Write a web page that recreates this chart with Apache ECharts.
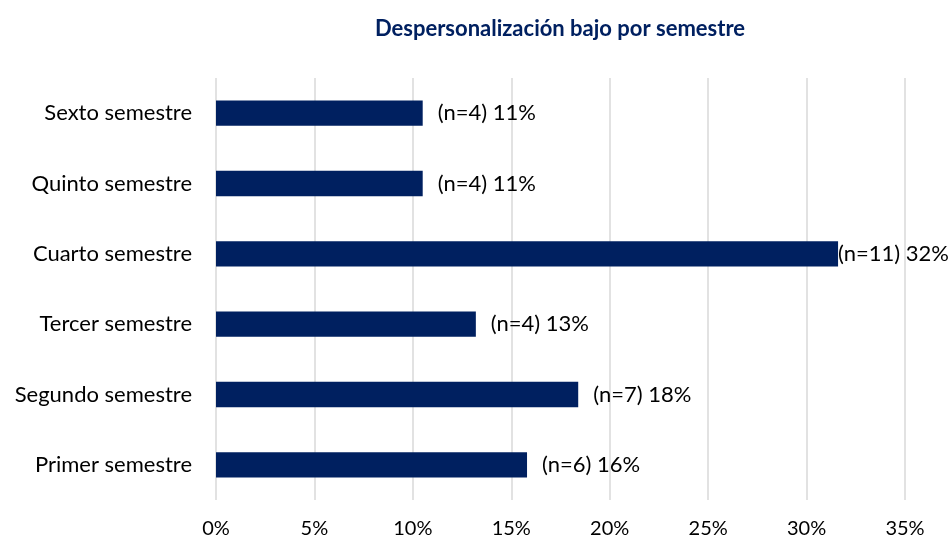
<!DOCTYPE html>
<html>
<head>
<meta charset="utf-8">
<script src="https://cdn.jsdelivr.net/npm/echarts@6/dist/echarts.min.js"></script>
<style>
  html, body { margin: 0; padding: 0; background: #fff; }
  #chart { width: 951px; height: 546px; }
</style>
</head>
<body>
<div id="chart"></div>
<script>
var categories = ['Primer semestre', 'Segundo semestre', 'Tercer semestre', 'Cuarto semestre', 'Quinto semestre', 'Sexto semestre'];
var values = [15.8, 18.4, 13.2, 31.6, 10.5, 10.5];
var counts = [6, 7, 4, 11, 4, 4];
var xTicks = [0, 5, 10, 15, 20, 25, 30, 35];

var font = 'Lato, "Open Sans", sans-serif';

echarts.init(document.getElementById('chart')).setOption({
    title: {
        text: 'Despersonalización bajo por semestre',
        left: 555,
        top: 13,
        textAlign: 'center',
        textStyle: {
            color: '#002060',
            fontSize: 22,
            fontWeight: 'bold',
            fontFamily: font
        }
    },
    grid: {
        left: 216,
        right: 46,
        top: 78,
        bottom: 46
    },
    xAxis: {
        type: 'value',
        min: xTicks[0],
        max: xTicks[xTicks.length - 1],
        interval: 5,
        axisLine: { show: false },
        axisTick: { show: false },
        splitLine: { lineStyle: { color: '#d9d9d9', width: 1.5 } },
        axisLabel: {
            margin: 19,
            color: '#000',
            fontSize: 20,
            fontFamily: font,
            formatter: function (v) { return v + '%'; }
        }
    },
    yAxis: {
        type: 'category',
        data: categories,
        axisLine: { show: false },
        axisTick: { show: false },
        axisLabel: {
            margin: 24,
            color: '#000',
            fontSize: 22,
            fontFamily: font
        }
    },
    series: [
        {
            type: 'bar',
            barWidth: '36%',
            itemStyle: { color: '#002060' },
            data: values.map(function (v, i) {
                return {
                    value: v,
                    label: { distance: v > 30 ? 0 : 15 }
                };
            }),
            label: {
                show: true,
                position: 'right',
                color: '#000',
                fontSize: 22,
                fontFamily: font,
                formatter: function (p) {
                    return '(n=' + counts[p.dataIndex] + ') ' + Math.round(p.value) + '%';
                }
            }
        }
    ]
});
</script>
</body>
</html>
